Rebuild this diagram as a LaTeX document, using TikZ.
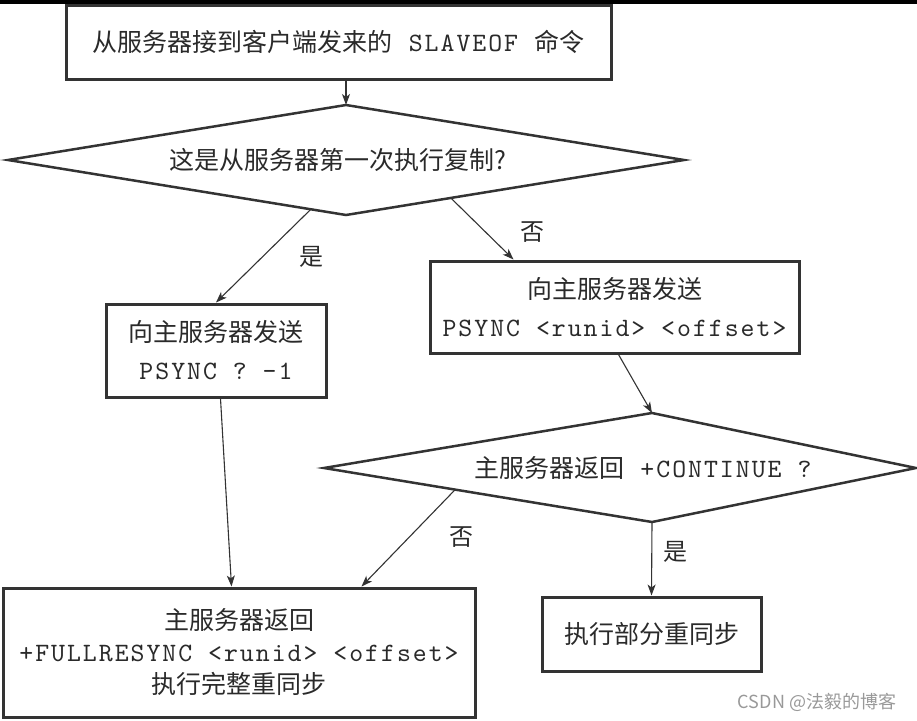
\documentclass[tikz,border=0pt]{standalone}
\usepackage{fontspec}
\setmainfont{Liberation Serif}
\newfontfamily\cjk{Noto Sans CJK SC}
\newfontfamily\monofam{lmmono10-regular}[Extension=.otf, LetterSpace=7.5]
\usetikzlibrary{arrows.meta,calc}
\definecolor{linegray}{HTML}{333333}
\definecolor{textgray}{HTML}{2A2A2A}
\newcommand\monotxt[1]{{\monofam\fontsize{26.5}{38}\selectfont #1}}
\begin{document}
\begin{tikzpicture}[x=1pt,y=-1pt,
  box/.style={draw=linegray, line width=3pt, rectangle, inner sep=0pt, align=center,
    text=textgray, font=\cjk\fontsize{25}{38}\selectfont},
  dia/.style={draw=linegray, line width=2.5pt, line join=miter},
  diatext/.style={text=textgray, inner sep=0pt, font=\cjk\fontsize{25}{38}\selectfont},
  arr/.style={draw=linegray, line width=1.1pt, -{Stealth[length=11pt,width=8pt,inset=3pt]}},
  lbl/.style={text=textgray, inner sep=0pt, font=\cjk\fontsize{24}{24}\selectfont},
]
\useasboundingbox (0,0) rectangle (917,720);
\fill[black] (0,0) rectangle (917,3.5);

% boxes
\node[box, minimum width=545pt, minimum height=74pt] (top) at (338.5,42)
  {从服务器接到客户端发来的\monotxt{ SLAVEOF }命令};
\node[box, minimum width=220pt, minimum height=93pt] (lbox) at (216,350.5)
  {向主服务器发送\\\monotxt{PSYNC ? -1}};
\node[box, minimum width=369pt, minimum height=92pt] (rbox) at (614.5,307)
  {向主服务器发送\\\monotxt{PSYNC <runid> <offset>}};
\node[box, minimum width=219pt, minimum height=74pt] (sbox) at (651.5,634)
  {执行部分重同步};
\node[box, minimum width=472pt, minimum height=129pt,
  font=\cjk\fontsize{25}{32}\selectfont] (bbox) at (239,652.5)
  {主服务器返回\\{\monofam\fontsize{26.5}{32}\selectfont +FULLRESYNC <runid> <offset>}\\执行完整重同步};

% diamond 1
\coordinate (d1l) at (8,160);
\coordinate (d1t) at (346,105);
\coordinate (d1r) at (684,160);
\coordinate (d1b) at (346,215);
\draw[dia] (d1l) -- (d1t) -- (d1r) -- (d1b) -- cycle;
\node[diatext] (d1) at (338,160) {这是从服务器第一次执行复制?};

% diamond 2
\coordinate (d2l) at (324,468);
\coordinate (d2t) at (652,413);
\coordinate (d2r) at (916,468);
\coordinate (d2b) at (652,522);
\draw[dia] (d2l) -- (d2t) -- (d2r) -- (d2b) -- cycle;
\node[diatext] (d2) at (643,468) {主服务器返回\monotxt{ +CONTINUE ?}};

% connector end points
\coordinate (d1yes) at ($(d1l)!0.896!(d1b)$);
\coordinate (d1no) at ($(d1b)!0.31!(d1r)$);
\coordinate (d2no) at ($(d2l)!0.4!(d2b)$);
\coordinate (rboxin) at ($(rbox.north west)+(85,0)$);
\coordinate (rboxout) at ($(rbox.south west)+(190,0)$);
\coordinate (lboxout) at ($(lbox.south west)+(116,0)$);
\coordinate (bboxin1) at ($(bbox.north west)+(230,0)$);
\coordinate (bboxin2) at ($(bbox.north west)+(360,0)$);

% connectors
\draw[arr] (top.south -| d1t) -- (d1t);
\draw[arr] (d1yes) -- (lbox.north);
\draw[arr] (d1no) -- (rboxin);
\draw[arr] (rboxout) -- (d2t);
\draw[arr] (lboxout) -- (bboxin1);
\draw[arr] (d2no) -- (bboxin2);
\draw[arr] (d2b) -- (sbox.north);

% labels
\node[lbl] (lyes1) at (311,257) {是};
\node[lbl] (lno1) at (532,232) {否};
\node[lbl] (lno2) at (461,537) {否};
\node[lbl] (lyes2) at (675,552) {是};

% watermark
\node[text=black!40, inner sep=0pt, font=\cjk\fontsize{18}{18}\selectfont] (wm) at (817,702) {CSDN @法毅的博客};
\end{tikzpicture}
\end{document}
